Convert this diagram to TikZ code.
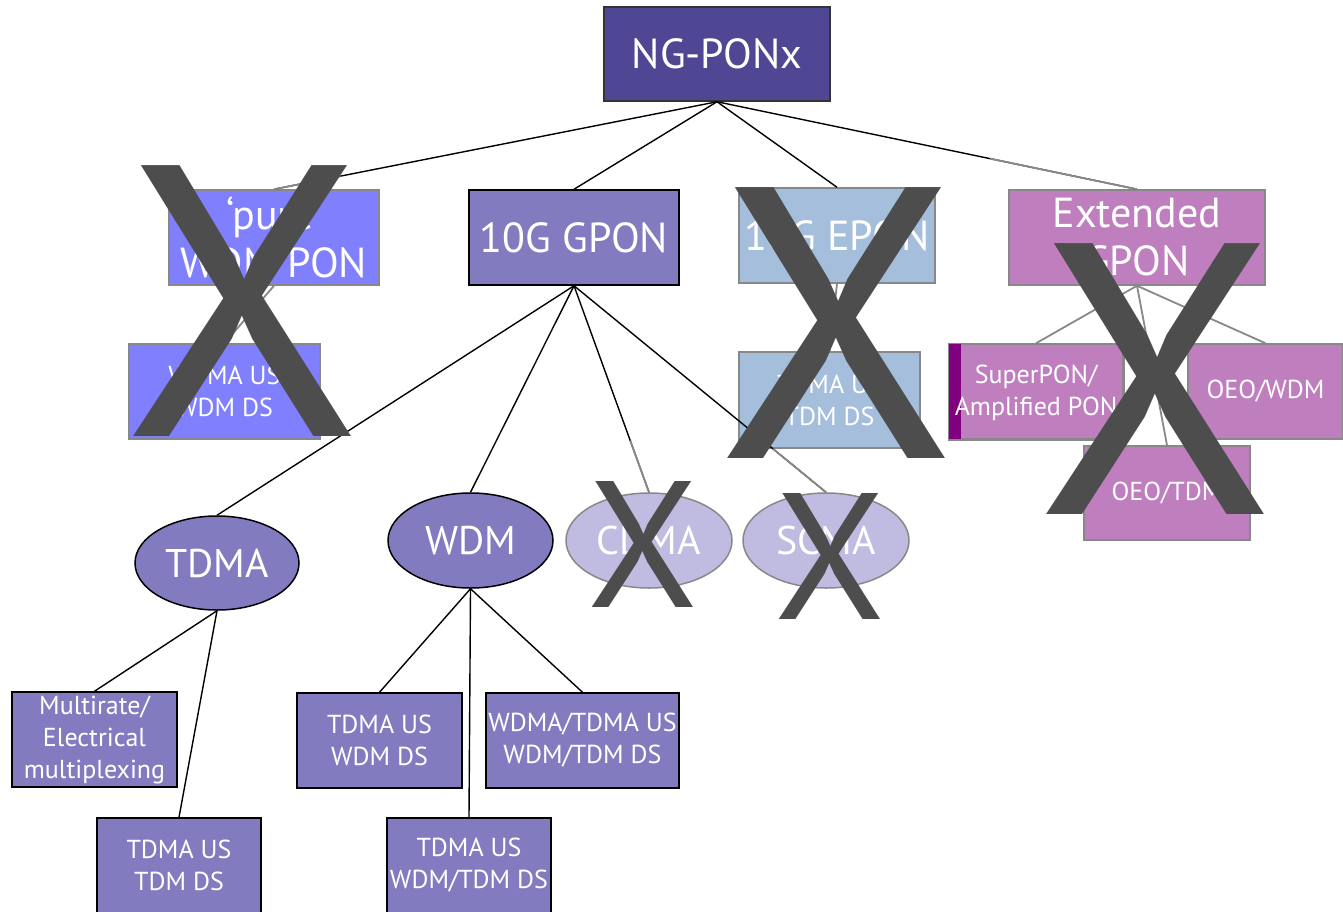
\documentclass[tikz,border=0pt]{standalone}
\usepackage{fontspec}
\setmainfont{PT Sans}
\usetikzlibrary{calc,shapes.geometric}

\definecolor{ngfill}{RGB}{79,71,147}
\definecolor{gponfill}{RGB}{131,123,191}
\definecolor{purefill}{RGB}{128,128,255}
\definecolor{eponfill}{RGB}{164,190,220}
\definecolor{extfill}{RGB}{191,127,191}
\definecolor{fadefill}{RGB}{192,187,224}
\definecolor{stripfill}{RGB}{128,0,128}
\definecolor{crossgray}{RGB}{77,77,77}
\definecolor{edgegray}{RGB}{136,136,136}

\newcommand{\bigfont}{\fontsize{42}{48}\selectfont}
\newcommand{\midfont}{\fontsize{40}{44}\selectfont}
\newcommand{\smallfont}{\fontsize{26}{32}\selectfont}

\tikzset{
	box/.style={rectangle, draw=black, line width=1.5pt, text=white, align=center, inner sep=0pt, font=\smallfont},
	bigbox/.style={box, font=\bigfont},
	dimbox/.style={box, draw=edgegray},
	oval/.style={ellipse, draw=black, line width=1.5pt, text=white, inner sep=0pt, font=\midfont},
	link/.style={draw=black, line width=1.4pt},
	dimlink/.style={draw=edgegray, line width=1.8pt},
	cross/.style={text=crossgray, inner sep=0pt, font=\fontsize{387}{387}\selectfont},
	smallcross/.style={cross, font=\fontsize{180}{180}\selectfont}
}

\begin{document}
\begin{tikzpicture}[x=1pt,y=-1pt]
			\useasboundingbox (0,0) rectangle (1343,911);
			
			% node point
			
			\node[bigbox, fill=ngfill, draw=black!80, minimum width=226, minimum height=94] (ng) at (717,54) {NG-PONx};
			
			\node[bigbox, draw=edgegray, fill=purefill, minimum width=210, minimum height=95] (pure) at (274,237.5) {`pure'\\WDM PON};
			\node[bigbox, fill=gponfill, minimum width=210, minimum height=95] (gpon) at (574,237.5) {10G GPON};
			\node[bigbox, draw=edgegray, fill=eponfill, minimum width=196, minimum height=95] (epon) at (837,235.5) {10G EPON};
			\node[bigbox, draw=edgegray, fill=extfill, minimum width=256, minimum height=95] (ext) at (1137,237.5) {Extended\\GPON};
			
			\node[dimbox, fill=purefill, minimum width=191, minimum height=95] (wdmaus) at (224.5,391.5) {WDMA US\\WDM DS};
			\node[dimbox, fill=eponfill, minimum width=181, minimum height=96] (epontdma) at (829.5,400) {TDMA US\\TDM DS};
			\node[dimbox, fill=extfill, minimum width=174, minimum height=95] (super) at (1036,391.5) {};
			\fill[stripfill] (super.north west) rectangle ($(super.south west)+(13,0)$);
			\draw[edgegray, line width=1.5pt] (super.north west) rectangle (super.south east);
			\node[text=white, align=center, font=\smallfont, inner sep=0pt] (superlabel) at (1036,393) {SuperPON/\\Amplified PON};
			\node[dimbox, fill=extfill, minimum width=155, minimum height=95] (oeowdm) at (1265.5,391.5) {OEO/WDM};
			\node[dimbox, fill=extfill, minimum width=166, minimum height=94] (oeotdm) at (1167,493) {OEO/TDM};
			
			\node[oval, fill=gponfill, minimum width=164, minimum height=94] (tdma) at (217,563) {TDMA};
			\node[oval, fill=gponfill, minimum width=165, minimum height=95] (wdm) at (470.5,540.5) {WDM};
			\node[oval, draw=edgegray, fill=fadefill, minimum width=166, minimum height=95] (cdma) at (649,540.5) {CDMA};
			\node[oval, draw=edgegray, fill=fadefill, minimum width=166, minimum height=95] (scma) at (826,540.5) {SCMA};
			
			\node[box, fill=gponfill, minimum width=165, minimum height=95] (multi) at (94.5,739.5) {Multirate/\\Electrical\\multiplexing};
			\node[box, fill=gponfill, minimum width=164, minimum height=95] (tdmtdm) at (179,865.5) {TDMA US\\TDM DS};
			\node[box, fill=gponfill, minimum width=165, minimum height=95] (tdmwdm) at (379.5,740.5) {TDMA US\\WDM DS};
			\node[box, fill=gponfill, minimum width=193, minimum height=95] (wdmatdma) at (582.5,740.5) {WDMA/TDMA US\\WDM/TDM DS};
			\node[box, fill=gponfill, minimum width=164, minimum height=95] (tdmwtdm) at (469,865.5) {TDMA US\\WDM/TDM DS};
			
			% draw
			
			\draw[link] (ng.south) -- (pure.north);
			\draw[dimlink] ($(ng.south)!0.85!(pure.north)$) -- (pure.north);
			\draw[link] (ng.south) -- (gpon.north);
			\draw[link] (ng.south) -- (epon.north);
			\draw[link] (ng.south) -- (ext.north);
			\draw[dimlink] ($(ng.south)!0.65!(ext.north)$) -- (ext.north);
			
			\draw[dimlink] (pure.south) -- (wdmaus.north);
			\draw[dimlink] (epon.south) -- (epontdma.north);
			\draw[dimlink] (ext.south) -- (super.north);
			\draw[dimlink] (ext.south) -- (oeowdm.north);
			\draw[dimlink] (ext.south) -- (oeotdm.north);
			
			\draw[link] (gpon.south) -- (tdma.north);
			\draw[link] (gpon.south) -- (wdm.north);
			\draw[link] (gpon.south) -- (cdma.north);
			\draw[dimlink] ($(gpon.south)!0.75!(cdma.north)$) -- (cdma.north);
			\draw[link] (gpon.south) -- (scma.north);
			\draw[dimlink] ($(gpon.south)!0.79!(scma.north)$) -- (scma.north);
			
			\draw[link] (tdma.south) -- (multi.north);
			\draw[link] (tdma.south) -- (tdmtdm.north);
			\draw[link] (wdm.south) -- (tdmwdm.north);
			\draw[link] (wdm.south) -- (tdmwtdm.north);
			\draw[link] (wdm.south) -- (wdmatdma.north);
			
			% crossed out
			
			\node[cross] (xpure) at (243,301.5) {X};
			\node[cross] (xepon) at (837.5,323) {X};
			\node[cross] (xext) at (1156,379) {X};
			\node[smallcross] (xcdma) at (643.5,544) {X};
			\node[smallcross] (xscma) at (830.5,556.5) {X};
			
		\end{tikzpicture}
\end{document}
